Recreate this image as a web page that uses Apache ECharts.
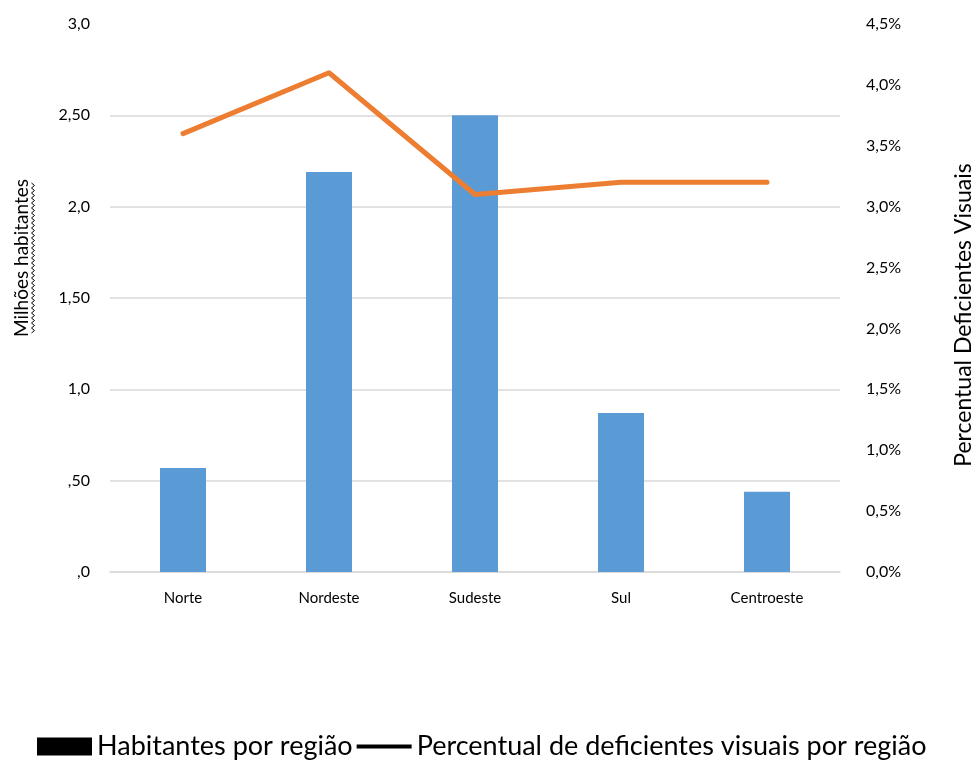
<!DOCTYPE html>
<html>
<head>
<meta charset="utf-8">
<script src="https://cdn.jsdelivr.net/npm/echarts@6/dist/echarts.min.js"></script>
<style>
  html, body { margin: 0; padding: 0; background: #fff; }
  #chart { width: 977px; height: 761px; }
</style>
</head>
<body>
<div id="chart"></div>
<script>
// Regions of Brazil
const regioes = ['Norte', 'Nordeste', 'Sudeste', 'Sul', 'Centroeste'];
// Inhabitants per region (millions)
const habitantes = [0.57, 2.19, 2.50, 0.87, 0.44];
// Share of visually impaired people per region (%)
const percentual = [3.6, 4.1, 3.1, 3.2, 3.2];
// Tick labels on the left axis, keyed by value
const rotulosEsq = { 0: ',0', 0.5: ',50', 1: '1,0', 1.5: '1,50', 2: '2,0', 2.5: '2,50', 3: '3,0' };

const FONT = 'Lato';
const chart = echarts.init(document.getElementById('chart'));

// Wavy underline beneath the left axis title
const onda = [];
for (let y = 183, k = 0; y <= 333; y += 2.5, k++) {
  onda.push([k % 2 === 0 ? 31.5 : 34.5, y]);
}

chart.setOption({
  animation: false,
  textStyle: { fontFamily: FONT },
  grid: { left: 110, right: 137, top: 24, bottom: 189 },
  legend: {
    bottom: -4,
    left: 32,
    itemGap: 4,
    itemWidth: 55,
    itemHeight: 18,
    symbolKeepAspect: true,
    textStyle: { fontFamily: FONT, fontSize: 27, color: '#000' },
    data: [
      { name: 'Habitantes por região', icon: 'rect', itemStyle: { color: '#000' } },
      { name: 'Percentual de deficientes visuais por região', icon: 'path://M0,0 L55,0 L55,4 L0,4 Z', itemStyle: { color: '#000' } }
    ]
  },
  xAxis: {
    type: 'category',
    data: regioes,
    axisLine: { lineStyle: { color: '#d9d9d9', width: 1.5 } },
    axisTick: { show: false },
    axisLabel: { color: '#000', fontSize: 15, margin: 19 }
  },
  yAxis: [
    {
      type: 'value',
      min: 0, max: 3, interval: 0.5,
      axisLine: { show: false },
      axisTick: { show: false },
      splitLine: { show: true, showMaxLine: false, lineStyle: { color: '#d9d9d9', width: 1.5 } },
      axisLabel: {
        color: '#000', fontSize: 16, margin: 20,
        formatter: v => rotulosEsq[Math.round(v * 2) / 2]
      }
    },
    {
      type: 'value',
      min: 0, max: 4.5, interval: 0.5,
      axisLine: { show: false },
      axisTick: { show: false },
      splitLine: { show: false },
      axisLabel: {
        color: '#000', fontSize: 16, margin: 26,
        formatter: v => v.toFixed(1).replace('.', ',') + '%'
      }
    }
  ],
  graphic: [
    {
      type: 'text',
      x: 22, y: 258,
      rotation: Math.PI / 2,
      style: {
        text: 'Milhões habitantes',
        fontFamily: FONT, fontSize: 19, fill: '#000',
        align: 'center', verticalAlign: 'middle'
      }
    },
    {
      type: 'polyline',
      shape: { points: onda },
      style: { stroke: '#000', lineWidth: 1, fill: null }
    },
    {
      type: 'text',
      x: 964, y: 315,
      rotation: Math.PI / 2,
      style: {
        text: 'Percentual Deficientes Visuais',
        fontFamily: FONT, fontSize: 23, fill: '#000',
        align: 'center', verticalAlign: 'middle'
      }
    }
  ],
  series: [
    {
      name: 'Habitantes por região',
      type: 'bar',
      data: habitantes,
      barWidth: 46,
      itemStyle: { color: '#5b9bd5' }
    },
    {
      name: 'Percentual de deficientes visuais por região',
      type: 'line',
      yAxisIndex: 1,
      data: percentual,
      symbol: 'none',
      lineStyle: { color: '#ed7d31', width: 5, cap: 'round', join: 'round' },
      itemStyle: { color: '#ed7d31' }
    }
  ]
});
</script>
</body>
</html>
